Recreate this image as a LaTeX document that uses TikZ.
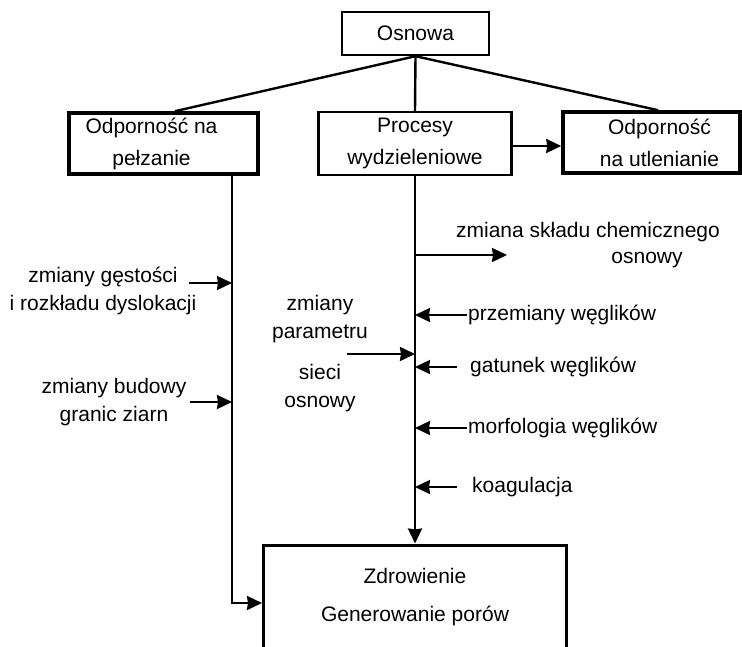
\documentclass[tikz,border=0pt]{standalone}
\usepackage{fontspec}
\setmainfont{Liberation Sans}
\usetikzlibrary{arrows.meta}
\begin{document}
\begin{tikzpicture}[x=1pt,y=-1pt,font=\fontsize{21}{28}\selectfont,
  box/.style={draw,line width=2.4pt,align=center,inner sep=0pt,font=\fontsize{21}{32}\selectfont},
  thickbox/.style={box,line width=3.6pt},
  lbl/.style={align=center,inner sep=1pt},
  arr/.style={line width=2.4pt,-{Stealth[length=15pt,width=14pt,inset=1pt]}}]
\clip (0,0) rectangle (742,647);
\pgfmathsetmacro{\xl}{232};
\pgfmathsetmacro{\xm}{415};
\node[box,minimum width=147,minimum height=43](osn) at (415.5,33.5){Osnowa};
\node[thickbox,minimum width=189,minimum height=61](ple) at (163.5,143.5){\hspace*{-24pt}Odporność na\\\hspace*{-24pt}pełzanie};
\node[box,minimum width=193,minimum height=63](pro) at (\xm,143.5){Procesy\\wydzieleniowe};
\node[thickbox,minimum width=177,minimum height=61](utl) at (651.5,142.5){\hspace*{16pt}Odporność\\\hspace*{16pt}na utlenianie};
\node[box,line width=3pt,minimum width=303,minimum height=104,font=\fontsize{21}{38}\selectfont](zdr) at (\xm,597){Zdrowienie\\Generowanie porów};
\draw[line width=2.4pt](osn.south)--([xshift=11.5]ple.north);
\draw[line width=2.4pt](osn.south)--(pro.north);
\draw[line width=2.4pt](osn.south)--([xshift=6.5]utl.north);
\draw[arr]([yshift=-2.5]pro.east)--([yshift=-2.5]pro.east -| utl.west);
\draw[arr](ple.south -| \xl,0)|-([yshift=-6]zdr.west);
\draw[arr](pro.south)--(zdr.north);
\node[lbl](gest) at (103,290.5){zmiany gęstości\\i rozkładu dyslokacji};
\node[lbl](bud) at (114,402.5){zmiany budowy\\granic ziarn};
\coordinate(g1) at (189,283);
\coordinate(b1) at (190,402);
\draw[arr](g1)--(g1 -| \xl,0);
\draw[arr](b1)--(b1 -| \xl,0);
\node[lbl](par) at (320,319.5){zmiany\\parametru};
\node[lbl](sie) at (320,388){sieci\\osnowy};
\coordinate(pa) at (347,354);
\draw[arr](pa)--(pa -| \xm,0);
\node[lbl](chemA) at (588,232){zmiana składu chemicznego};
\node[lbl](chemB) at (647,260){osnowy};
\coordinate(ch) at (\xm,255);
\draw[arr](ch)--++(92,0);
\node[lbl,anchor=west](prz) at (467,315){przemiany węglików};
\node[lbl,anchor=west](gat) at (469,367){gatunek węglików};
\node[lbl,anchor=west](mor) at (467,428){morfologia węglików};
\node[lbl,anchor=west](koa) at (471,487){koagulacja};
\draw[arr](prz.west)--(prz.west -| \xm,0);
\draw[arr]([xshift=-12]gat.west)--(gat.west -| \xm,0);
\draw[arr](mor.west)--(mor.west -| \xm,0);
\draw[arr]([xshift=-14]koa.west)--(koa.west -| \xm,0);
\end{tikzpicture}
\end{document}
